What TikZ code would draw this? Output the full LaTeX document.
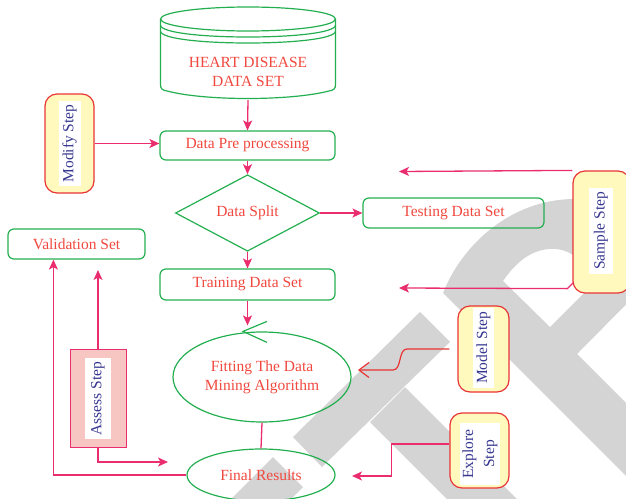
\documentclass[tikz,border=0pt]{standalone}
\usepackage{fontspec}
\setmainfont{Liberation Serif}
\usetikzlibrary{shapes.geometric,arrows.meta,calc}
\definecolor{gline}{RGB}{35,175,80}
\definecolor{rtext}{RGB}{240,72,62}
\definecolor{pk}{RGB}{234,45,110}
\definecolor{mred}{RGB}{232,52,52}
\definecolor{yfill}{RGB}{255,249,190}
\definecolor{navy}{RGB}{55,55,145}
\definecolor{afill}{RGB}{247,198,194}
\definecolor{wm}{RGB}{212,212,212}
\begin{document}
\begin{tikzpicture}[x=1pt,y=-1pt,
  every node/.style={font=\fontsize{15.5}{19}\selectfont},
  gbox/.style={draw=gline,line width=1.2pt,rounded corners=6pt,text=rtext,inner sep=0pt},
  gshape/.style={draw=gline,line width=1.2pt,text=rtext,inner sep=0pt},
  stepbox/.style={draw=mred,fill=yfill,line width=1.2pt,rounded corners=12pt,inner sep=0pt},
  steptext/.style={fill=white,text=navy,rotate=90,inner sep=0pt,align=center},
  pline/.style={draw=pk,line width=1.3pt},
  parr/.style={pline,-{Stealth[length=10pt,width=9pt,inset=2.5pt]}},
]
\useasboundingbox (0,0) rectangle (626,498);
% watermark
\begin{scope}
\clip (0,0) rectangle (626,498);
\fill[wm] (293,437) -- (420,312) -- (450,342) -- (322,467) -- cycle;
\fill[wm] (405,387) -- (600,582) -- (565,617) -- (370,422) -- cycle;
\fill[wm] (273,457) -- (303,487) -- (223,567) -- (193,537) -- cycle;
\fill[wm,even odd rule] (443,293) .. controls (462,245) and (510,200) .. (573,199)
   .. controls (620,198) and (660,225) .. (680,250) -- (577,354) -- (760,537) -- (700,550) -- cycle
   (503,281) .. controls (520,256) and (538,248) .. (555,249)
   .. controls (575,250) and (590,268) .. (592,285) -- (550,327) -- cycle;
\end{scope}
% cylinder
\begin{scope}[draw=gline,line width=1.2pt]
\draw (248,19) ellipse [x radius=87.5,y radius=12];
\draw (160.5,25) .. controls (160.5,41) and (335.5,41) .. (335.5,25);
\draw (160.5,31) .. controls (160.5,47) and (335.5,47) .. (335.5,31);
\draw (160.5,19) -- (160.5,84) .. controls (160.5,89) and (162,90) .. (167,91)
   .. controls (205,101) and (290,101) .. (329,91)
   .. controls (334,90) and (335.5,89) .. (335.5,84) -- (335.5,19);
\end{scope}
\node[text=rtext,align=center,minimum height=57pt,inner sep=0pt] (heart) at (248,71.5) {HEART DISEASE\\DATA SET};
% main nodes
\node[gbox,minimum width=175pt,minimum height=29pt] (pre) at (247.5,145.5) {Data Pre processing};
\node[gshape,diamond,minimum width=144pt,minimum height=72pt] (split) at (247.5,213) {Data Split};
\node[gbox,minimum width=181pt,minimum height=30pt] (test) at (453.5,213) {Testing Data Set};
\node[gbox,minimum width=175pt,minimum height=31pt] (train) at (247.5,284.5) {Training Data Set};
\node[gshape,ellipse,align=center,minimum width=178pt,minimum height=90pt] (fit) at (262,377) {Fitting The Data\\Mining Algorithm};
\node[gshape,ellipse,minimum width=148pt,minimum height=52pt] (final) at (261,475) {Final Results};
\node[gbox,minimum width=137pt,minimum height=30pt] (valid) at (76.5,244) {Validation Set};
% step boxes
\node[stepbox,minimum width=49pt,minimum height=99pt] (modify) at (69.5,143.5) {};
\node[steptext,minimum width=85pt,minimum height=22pt] (modifyt) at (modify) {Modify Step};
\node[stepbox,minimum width=57pt,minimum height=122pt] (sample) at (601.5,232) {};
\node[steptext,minimum width=86pt,minimum height=24pt] (samplet) at (601,231) {Sample Step};
\node[stepbox,minimum width=51pt,minimum height=86pt] (model) at (483.5,349) {};
\node[steptext,minimum width=80pt,minimum height=21pt] (modelt) at (483.5,348) {Model Step};
\node[stepbox,minimum width=59pt,minimum height=75pt] (explore) at (479.5,450.5) {};
\node[steptext,minimum width=62pt,minimum height=40pt,font=\fontsize{15.5}{21}\selectfont] (exploret) at (480,454) {Explore\\Step};
\node[draw=pk,fill=afill,line width=0.9pt,minimum width=56pt,minimum height=98pt,inner sep=0pt] (assess) at (98,398) {};
\node[steptext,minimum width=81pt,minimum height=26pt] (assesst) at (98,398.5) {Assess Step};
% free ends
\coordinate (sampA) at (399,171.5);
\coordinate (sampB) at (399,288);
\coordinate (modelA) at (358,370);
\coordinate (exploreA) at (352,476);
\coordinate (assessA) at (98,270);
\coordinate (assessB) at (168,462);
% connectors
\draw[parr] (heart.south) -- (pre.north);
\draw[parr] (pre.south) -- (split.north);
\draw[parr] (split.east) -- (test.west);
\draw[parr] (split.south) -- (train.north);
\draw[parr,shorten >=6pt] (train.south) -- (train.south |- fit.north);
\draw[pline] (fit.south) -- (final.north);
\draw[gline,line width=1.2pt] ($(fit.north)+(5,-10)$) -- ($(fit.north)+(-19,0)$) -- ($(fit.north)+(5,11)$);
\draw[parr] (modify.east) -- (modify.east -| pre.west);
\draw[parr] (sample.north west) -- (sampA);
\draw[parr] ($(sample.south west)+(1,-11)$) -- ++(-6,6) -- (sampB);
\draw[mred,line width=1.2pt,-{Straight Barb[length=10pt,width=15pt]}] ($(model.west)+(-8,0)$) -- (407,349) .. controls (398,349) and (402,370) .. (393,370) -- (modelA);
\draw[parr] ($(explore.west)+(0,-6.5)$) -- ++(-58,0) |- (exploreA);
\draw[parr] (assess.north) -- (assessA);
\draw[parr] (assess.south) |- (assessB);
\draw[parr] (final.west) -| ($(valid.south west)+(46,0)$);
\end{tikzpicture}
\end{document}
